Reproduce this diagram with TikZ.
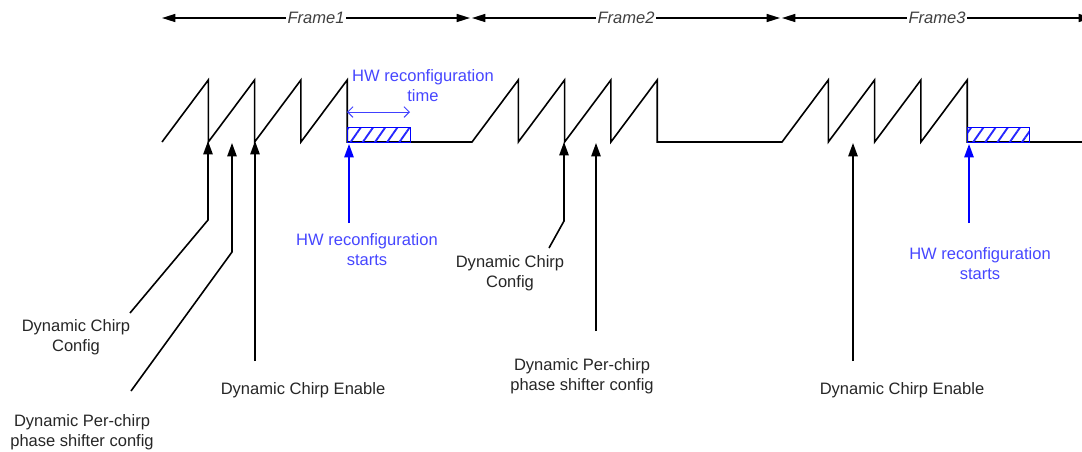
\documentclass[tikz,border=0pt]{standalone}
\usepackage{fontspec}
\setmainfont{Liberation Sans}
\usetikzlibrary{arrows.meta,patterns.meta,positioning}
\definecolor{hwtext}{RGB}{70,70,255}
\newcommand{\diagfont}{\fontsize{12.4}{15}\selectfont}
\tikzset{
  chirp line/.style={line width=1.2pt},
  cfg arrow/.style={-{Triangle[length=10pt,width=7pt]},line width=1.2pt},
  hw arrow/.style={cfg arrow,blue},
  frame arrow/.style={{Triangle[length=10pt,width=6pt]}-{Triangle[length=10pt,width=6pt]},line width=1.1pt},
  frame label/.style={fill=white,inner sep=1pt,font=\diagfont\itshape,text=black!75},
  cfg label/.style={align=center,text=black!85,inner sep=0pt},
  hw label/.style={cfg label,text=hwtext},
  reconf box/.style={draw=blue,line width=0.6pt,pattern={Lines[angle=55,distance=7.5pt,line width=1.4pt]},pattern color=blue!85},
  span arrow/.style={{Straight Barb[length=4pt,width=8pt]}-{Straight Barb[length=4pt,width=8pt]},blue!75,line width=0.7pt},
}

\begin{document}
\begin{tikzpicture}[x=0.75pt,y=-0.75pt,font=\diagfont]
  \clip (0,0) rectangle (1082,451);
  % frames
  \foreach \i/\s/\e in {1/162/470,2/472/780,3/782/1092}{
    \coordinate (f\i s) at (\s,18);
    \coordinate (f\i e) at (\e,18);
    \draw[frame arrow] (f\i s) -- node[frame label] (frame\i) {Frame\i} (f\i e);
  }
  % chirps
  \draw[chirp line] (162,142)
    foreach \s in {162,472,782}{
      foreach \k in {1,...,4}{ -- (\s+46.3*\k,80) -- (\s+46.3*\k,142) }
      -- (\s+310,142)
    };
  % reconfiguration windows
  \draw[reconf box] (347,127) rectangle (410,142);
  \draw[reconf box] (967,127) rectangle (1029,142);
  \coordinate (span l) at (347,112);
  \coordinate (span r) at (410,112);
  \draw[span arrow] (span l) -- (span r);
  \node[hw label] (hwtime) at (423,86) {HW reconfiguration\\time};

  % frame 1 triggers
  \coordinate (cfgA tip) at (208,141);
  \coordinate (cfgA bend) at (208,220);
  \coordinate (cfgA foot) at (130,313);
  \node[cfg label] (cfgA) at (76,337) {Dynamic Chirp\\Config};
  \draw[cfg arrow] (cfgA foot) -- (cfgA bend) -- (cfgA tip);

  \coordinate (phA tip) at (232,143);
  \coordinate (phA bend) at (232,252);
  \coordinate (phA foot) at (131,391);
  \node[cfg label] (phA) at (82,432) {Dynamic Per-chirp\\phase shifter config};
  \draw[cfg arrow] (phA foot) -- (phA bend) -- (phA tip);

  \coordinate (enA tip) at (255,141);
  \coordinate (enA foot) at (255,361);
  \node[cfg label] (enA) at (303,390) {Dynamic Chirp Enable};
  \draw[cfg arrow] (enA foot) -- (enA tip);

  \coordinate (hwA tip) at (349,144);
  \coordinate (hwA foot) at (349,223);
  \node[hw label] (hwA) at (367,250) {HW reconfiguration\\starts};
  \draw[hw arrow] (hwA foot) -- (hwA tip);

  % frame 2 triggers
  \coordinate (cfgB tip) at (564,142);
  \coordinate (cfgB bend) at (564,221);
  \coordinate (cfgB foot) at (549,248);
  \node[cfg label] (cfgB) at (510,273) {Dynamic Chirp\\Config};
  \draw[cfg arrow] (cfgB foot) -- (cfgB bend) -- (cfgB tip);

  \coordinate (phB tip) at (596,143);
  \coordinate (phB foot) at (596,331);
  \node[cfg label] (phB) at (582,376) {Dynamic Per-chirp\\phase shifter config};
  \draw[cfg arrow] (phB foot) -- (phB tip);

  % frame 3 triggers
  \coordinate (enC tip) at (853,143);
  \coordinate (enC foot) at (853,361);
  \node[cfg label] (enC) at (902,390) {Dynamic Chirp Enable};
  \draw[cfg arrow] (enC foot) -- (enC tip);

  \coordinate (hwC tip) at (969,144);
  \coordinate (hwC foot) at (969,223);
  \node[hw label] (hwC) at (980,264) {HW reconfiguration\\starts};
  \draw[hw arrow] (hwC foot) -- (hwC tip);
\end{tikzpicture}
\end{document}
